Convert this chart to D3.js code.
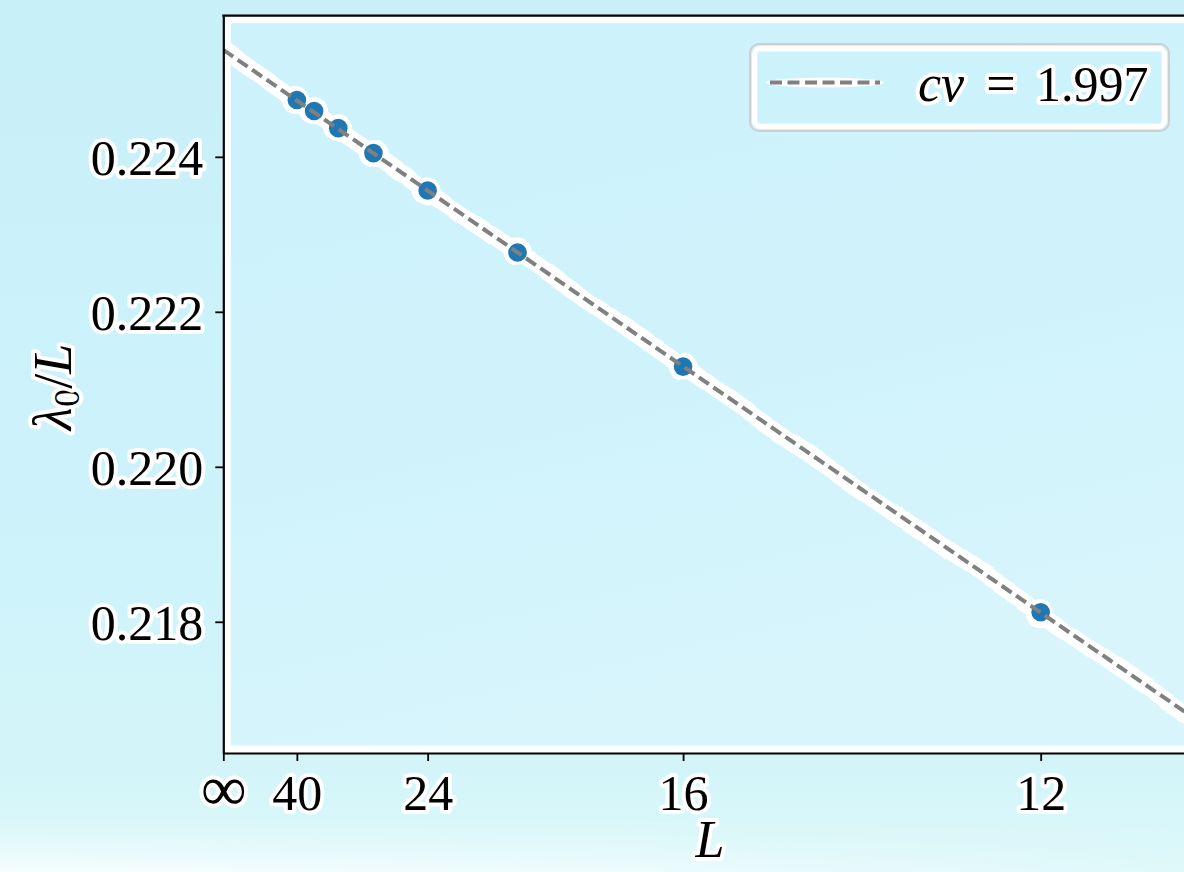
<!DOCTYPE html>
<html>
<head>
<meta charset="utf-8">
<script src="https://cdn.jsdelivr.net/npm/d3@7"></script>
<style>
  html, body { margin: 0; padding: 0; background: #cdf2fa; }
  svg { display: block; }
</style>
</head>
<body>
<svg id="chart" width="1184" height="872"></svg>
<script>
// System sizes and ground-state energy per site
const sizes = [40, 36, 32, 28, 24, 20, 16, 12];
const energyPerSite = [0.224733, 0.224591, 0.224370, 0.224048, 0.223565, 0.222765, 0.221293, 0.218123];

// Axis ticks (x axis is 1/L^2, labelled by L)
const xTickSizes = [Infinity, 40, 24, 16, 12];
const xTickLabels = ["\u221E", "40", "24", "16", "12"];
const yTicks = [0.218, 0.220, 0.222, 0.224];
const yTickLabels = ["0.218", "0.220", "0.222", "0.224"];

// Finite-size fit: e(L) = e_inf - pi*c*v / (6 L^2)
const fitIntercept = 0.22538;
const fitCv = 1.997;
const legendParts = ["cv", "=", "1.997"];

const W = 1184, H = 872;
const plot = { left: 223.3, top: 15.7, right: 1200, bottom: 753 };
const invSq = L => (isFinite(L) ? 1 / (L * L) : 0);

const svg = d3.select("#chart");
const defs = svg.append("defs");

// Background gradients
const bg = defs.append("linearGradient").attr("id", "bgGrad")
  .attr("x1", 0).attr("y1", 0).attr("x2", 0).attr("y2", 1);
[["0%", "#c8f0f9"], ["55%", "#cdf2fb"], ["88%", "#d3f5f9"], ["100%", "#dcf8f9"]]
  .forEach(([o, c]) => bg.append("stop").attr("offset", o).attr("stop-color", c));

const pg = defs.append("linearGradient").attr("id", "plotGrad")
  .attr("x1", 0).attr("y1", 0).attr("x2", 0.3).attr("y2", 1);
[["0%", "#cdf2fb"], ["60%", "#d0f3fb"], ["100%", "#d8f5fb"]]
  .forEach(([o, c]) => pg.append("stop").attr("offset", o).attr("stop-color", c));

// Whitish haze along the bottom edge, strongest on the left
const vg = defs.append("linearGradient").attr("id", "bottomFade")
  .attr("x1", 0).attr("y1", 0).attr("x2", 0).attr("y2", 1);
[["0%", 0], ["55%", 0.35], ["100%", 0.75]]
  .forEach(([o, a]) => vg.append("stop").attr("offset", o).attr("stop-color", "#ffffff").attr("stop-opacity", a));
const hg = defs.append("linearGradient").attr("id", "hazeMaskGrad")
  .attr("x1", 0).attr("y1", 0).attr("x2", 1).attr("y2", 0);
[["0%", "#ffffff"], ["45%", "#bbbbbb"], ["100%", "#222222"]]
  .forEach(([o, c]) => hg.append("stop").attr("offset", o).attr("stop-color", c));
defs.append("mask").attr("id", "hazeMask")
  .append("rect").attr("x", 0).attr("y", 0).attr("width", W).attr("height", H).attr("fill", "url(#hazeMaskGrad)");

// Soft, slightly irregular white halo
const f = defs.append("filter").attr("id", "wobble")
  .attr("filterUnits", "userSpaceOnUse")
  .attr("x", 0).attr("y", 0).attr("width", W).attr("height", H);
f.append("feTurbulence").attr("type", "fractalNoise").attr("baseFrequency", 0.012)
  .attr("numOctaves", 2).attr("seed", 7).attr("result", "noise");
f.append("feDisplacementMap").attr("in", "SourceGraphic").attr("in2", "noise")
  .attr("scale", 8).attr("xChannelSelector", "R").attr("yChannelSelector", "G");

defs.append("clipPath").attr("id", "plotClip").append("rect")
  .attr("x", plot.left).attr("y", plot.top)
  .attr("width", plot.right - plot.left).attr("height", plot.bottom - plot.top);

svg.append("rect").attr("width", W).attr("height", H).attr("fill", "url(#bgGrad)");
svg.append("rect").attr("x", 0).attr("y", 815).attr("width", W).attr("height", 57)
  .attr("fill", "url(#bottomFade)").attr("mask", "url(#hazeMask)");

// Scales
const x = d3.scaleLinear().domain([0, 0.008298]).range([plot.left, plot.right]);
const y = d3.scaleLinear().domain([0.216307, 0.225821]).range([plot.bottom, plot.top]);

// Plot area
svg.append("rect")
  .attr("x", plot.left).attr("y", plot.top)
  .attr("width", plot.right - plot.left).attr("height", plot.bottom - plot.top)
  .attr("fill", "url(#plotGrad)");

// White inner band along the frame
svg.append("rect")
  .attr("clip-path", "url(#plotClip)")
  .attr("x", plot.left).attr("y", plot.top)
  .attr("width", plot.right - plot.left).attr("height", plot.bottom - plot.top)
  .attr("fill", "none").attr("stroke", "#ffffff").attr("stroke-width", 15);

const points = sizes.map((L, i) => ({ L, x: invSq(L), v: energyPerSite[i] }));
const fitX = [0, x.domain()[1]];
const fitPts = fitX.map(t => ({ x: t, v: fitIntercept - Math.PI * fitCv / 6 * t }));
const line = d3.line().x(d => x(d.x)).y(d => y(d.v));

// Halo layer
const halo = svg.append("g").attr("clip-path", "url(#plotClip)")
  .append("g").attr("filter", "url(#wobble)");
halo.append("path").datum(fitPts).attr("d", line)
  .attr("fill", "none").attr("stroke", "#ffffff").attr("stroke-width", 17).attr("stroke-linecap", "round");
halo.selectAll("circle").data(points).join("circle")
  .attr("cx", d => x(d.x)).attr("cy", d => y(d.v)).attr("r", 14).attr("fill", "#ffffff");

// Data points
const main = svg.append("g").attr("clip-path", "url(#plotClip)");
main.selectAll("circle.pt").data(points).join("circle").attr("class", "pt")
  .attr("cx", d => x(d.x)).attr("cy", d => y(d.v)).attr("r", 9.3).attr("fill", "#1f77b4");

// Fit line (dashed, drawn above the points)
main.append("path").datum(fitPts).attr("d", line)
  .attr("fill", "none").attr("stroke", "#808080").attr("stroke-width", 4)
  .attr("stroke-dasharray", "12,5.5");

const FONT = "'Liberation Serif', 'Times New Roman', serif";
const haloText = sel => sel
  .attr("font-family", FONT).attr("fill", "#000")
  .attr("stroke", "#ffffff").attr("stroke-width", 8).attr("stroke-linejoin", "round")
  .attr("paint-order", "stroke");

// Axes
const xAxis = d3.axisBottom(x)
  .tickValues(xTickSizes.map(invSq))
  .tickFormat((d, i) => xTickLabels[i])
  .tickSize(8).tickSizeOuter(0);
const gx = svg.append("g").attr("transform", `translate(0,${plot.bottom})`).call(xAxis);
gx.select(".domain").attr("stroke", "#000").attr("stroke-width", 2.2);
gx.selectAll(".tick line").attr("stroke", "#000").attr("stroke-width", 1.8);
gx.selectAll(".tick text")
  .attr("y", 57).attr("dy", null)
  .attr("font-size", (d, i) => (i === 0 ? 64 : 50))
  .call(haloText);

const yAxis = d3.axisLeft(y)
  .tickValues(yTicks)
  .tickFormat((d, i) => yTickLabels[i])
  .tickSize(8).tickSizeOuter(0);
const gy = svg.append("g").attr("transform", `translate(${plot.left},0)`).call(yAxis);
gy.select(".domain").attr("stroke", "#000").attr("stroke-width", 2.2);
gy.selectAll(".tick line").attr("stroke", "#000").attr("stroke-width", 1.8);
gy.selectAll(".tick text")
  .attr("x", -20).attr("dy", "0.36em")
  .attr("font-size", 50)
  .call(haloText);

// Top spine
svg.append("line")
  .attr("x1", plot.left - 1).attr("x2", plot.right)
  .attr("y1", plot.top).attr("y2", plot.top)
  .attr("stroke", "#000").attr("stroke-width", 2.2);

// Axis titles
svg.append("text")
  .attr("x", 710).attr("y", 857).attr("text-anchor", "middle")
  .attr("font-size", 52).attr("font-style", "italic")
  .text("L").call(haloText);

const ylab = svg.append("text")
  .attr("transform", "translate(71,387) rotate(-90)")
  .attr("text-anchor", "middle").attr("font-size", 54)
  .call(haloText);
ylab.append("tspan").attr("font-style", "italic").text("\u03BB");
ylab.append("tspan").attr("font-size", 36).attr("dy", 8).text("0");
ylab.append("tspan").attr("dy", -8).text("/");
ylab.append("tspan").attr("font-style", "italic").text("L");

// Legend
const lg = svg.append("g");
lg.append("rect").attr("x", 750).attr("y", 44).attr("width", 419).attr("height", 87)
  .attr("rx", 9).attr("fill", "#ccf3fc").attr("stroke", "#cfcfcf").attr("stroke-width", 2);
lg.append("rect").attr("x", 754.5).attr("y", 48.5).attr("width", 410).attr("height", 78)
  .attr("rx", 6).attr("fill", "none").attr("stroke", "#ffffff").attr("stroke-width", 5);
lg.append("rect").attr("x", 757.5).attr("y", 51.5).attr("width", 404).attr("height", 72)
  .attr("rx", 4).attr("fill", "none").attr("stroke", "#e6f4f7").attr("stroke-width", 1);
lg.append("ellipse").attr("cx", 825).attr("cy", 82.5).attr("rx", 59).attr("ry", 5)
  .attr("fill", "#ffffff");
lg.append("line").attr("x1", 770).attr("x2", 880).attr("y1", 82.5).attr("y2", 82.5)
  .attr("stroke", "#808080").attr("stroke-width", 4).attr("stroke-dasharray", "12,5.5");
lg.append("text").attr("x", 918).attr("y", 101).attr("font-size", 52)
  .attr("font-style", "italic").text(legendParts[0]).call(haloText);
lg.append("text").attr("x", 1001).attr("y", 101).attr("font-size", 52)
  .attr("text-anchor", "middle").text(legendParts[1]).call(haloText);
lg.append("text").attr("x", 1036).attr("y", 101).attr("font-size", 50)
  .text(legendParts[2]).call(haloText);
</script>
</body>
</html>
